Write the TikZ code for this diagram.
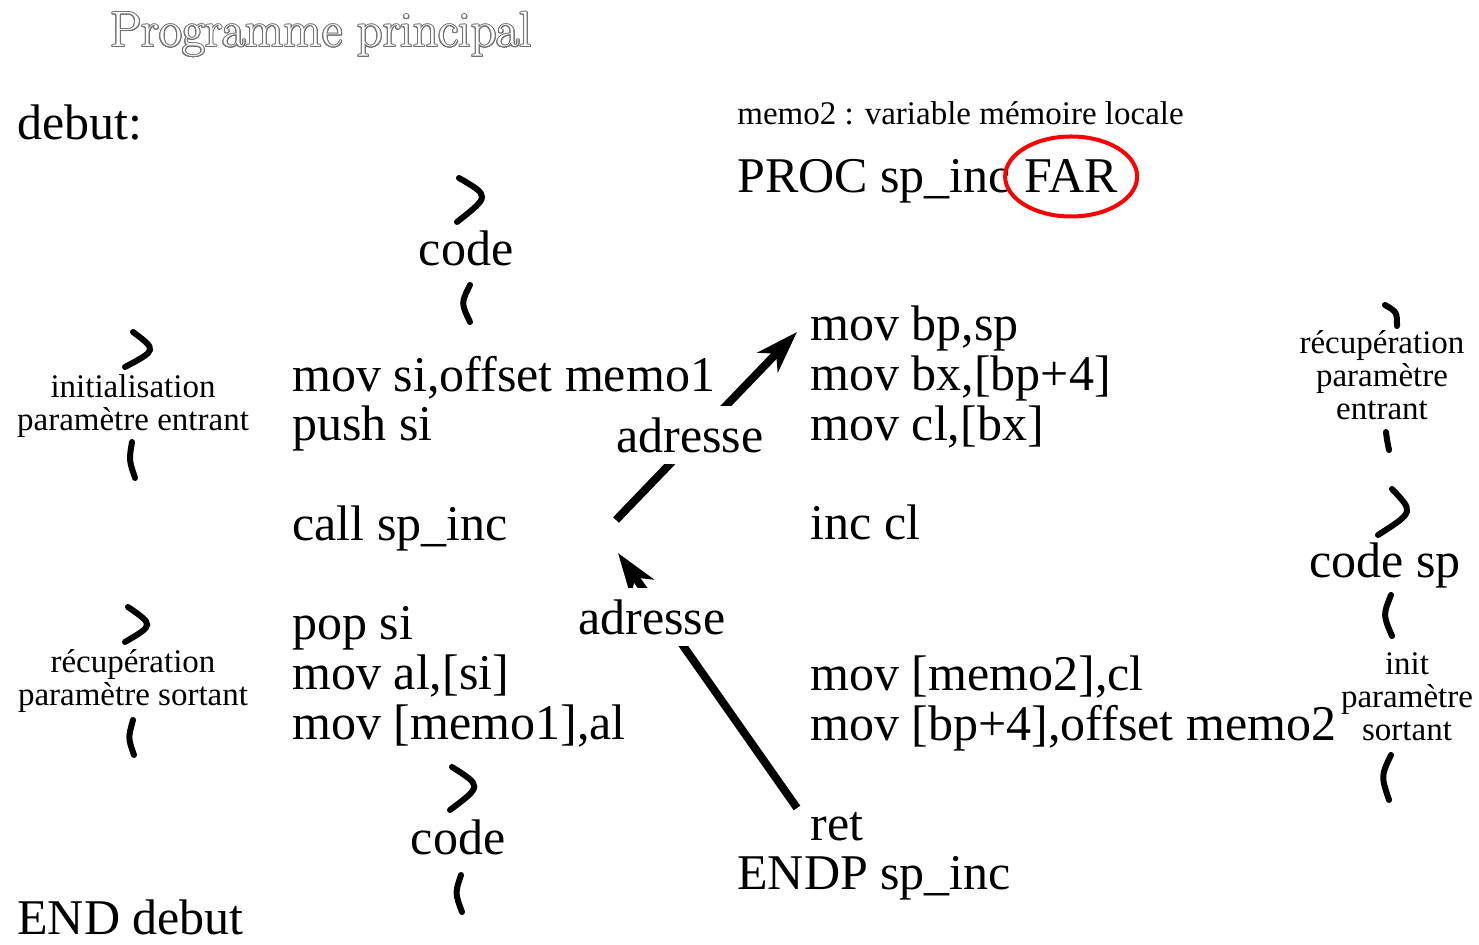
\documentclass[tikz,border=0pt]{standalone}
\usepackage{fontspec}
\usepackage{contour}
\usetikzlibrary{arrows.meta, positioning}
\newfontfamily\timesfont{Liberation Serif}
\contourlength{0.5pt}

\tikzset{
  asmline/.style={font=\timesfont\fontsize{25}{25}\selectfont, inner sep=0pt, anchor=base west},
  remark/.style={font=\timesfont\fontsize{16.5}{16.5}\selectfont, align=center, inner sep=0pt},
  brace/.style={line width=3pt, line cap=round},
  callarrow/.style={line width=4pt, -{Stealth[length=21pt, width=14pt, inset=6pt]}},
  hole/.style={fill=white, inner xsep=2pt, inner ysep=5.5pt}
}

\begin{document}
\begin{tikzpicture}[x=0.5pt, y=-0.5pt]
\useasboundingbox (0,0) rectangle (1479,945);

% titre
\node[anchor=base west, inner sep=0pt, font=\fontsize{24.9}{24.9}\selectfont, text=white] (title) at (110,47) {\contour{black!55}{Programme principal}};

% programme principal
\node[asmline] (debut) at (17,140) {debut:};
\node[asmline] (movsi) at (292,392) {mov si,offset memo1};
\node[asmline] (pushsi) at (292,441) {push si};
\node[asmline] (callsp) at (292,541) {call sp\_inc};
\node[asmline] (popsi) at (292,640) {pop si};
\node[asmline] (moval) at (292,690) {mov al,[si]};
\node[asmline] (movmemo) at (292,740) {mov [memo1],al};
\node[asmline] (enddebut) at (17,935) {END debut};

% procedure
\node[remark, anchor=base west] (memo) at (737,125) {memo2 : variable mémoire locale};
\node[asmline] (proc) at (737,193) {PROC sp\_inc};
\node[asmline] (far) at ([xshift=6.25pt]proc.base east) {FAR};
\draw[red, line width=2pt] (far.center) ellipse (33pt and 20pt);
\node[asmline] (movbp) at (810,341) {mov bp,sp};
\node[asmline] (movbx) at (810,391) {mov bx,[bp+4]};
\node[asmline] (movcl) at (810,441) {mov cl,[bx]};
\node[asmline] (inccl) at (810,540) {inc cl};
\node[asmline] (movmemob) at (810,691) {mov [memo2],cl};
\node[asmline] (movoff) at (810,741) {mov [bp+4],offset memo2};
\node[asmline] (ret) at (810,841) {ret};
\node[asmline] (endp) at (737,890) {ENDP sp\_inc};

% commentaires
\node[asmline, anchor=base] (codetop) at (466,266) {code};
\node[asmline, anchor=base] (codebot) at (458,855) {code};
\node[asmline, anchor=base] (codesp) at (1385,578) {code sp};
\node[remark] (initin) at (133,406) {initialisation\\paramètre entrant};
\node[remark] (recupout) at (133,681) {récupération\\paramètre sortant};
\node[remark] (recupin) at (1382,375) {récupération\\paramètre\\entrant};
\node[remark] (initout) at (1407,697) {init\\paramètre\\sortant};

% accolades
\draw[brace] (459,178) .. controls (490,196) .. (457,222);
\draw[brace] (470,285) .. controls (461,303) .. (470,322);
\draw[brace] (133,332) .. controls (157,350) .. (125,367);
\draw[brace] (132,442) .. controls (129,460) .. (135,478);
\draw[brace] (128,607) .. controls (154,625) .. (125,642);
\draw[brace] (133,720) .. controls (128,738) .. (134,755);
\draw[brace] (452,767) .. controls (482,786) .. (450,810);
\draw[brace] (461,875) .. controls (455,893) .. (462,912);
\draw[brace] (1385,305) .. controls (1397,312) .. (1397,326);
\draw[brace] (1386,432) .. controls (1387,440) .. (1389,450);
\draw[brace] (1392,489) .. controls (1414,512) .. (1378,535);
\draw[brace] (1391,595) .. controls (1383,615) .. (1392,636);
\draw[brace] (1391,755) .. controls (1381,776) .. (1389,800);

% appel et retour
\coordinate (a1s) at (616,520);
\coordinate (a1e) at (797,332);
\coordinate (a2s) at (797,808);
\coordinate (a2e) at (618,553);
\draw[callarrow] (a1s) -- (a1e);
\draw[callarrow] (a2s) -- (a2e);
\node[asmline, anchor=center, hole] (adr1) at (690,435) {adresse};
\node[asmline, anchor=center, hole] (adr2) at (652,617) {adresse};
\end{tikzpicture}
\end{document}
